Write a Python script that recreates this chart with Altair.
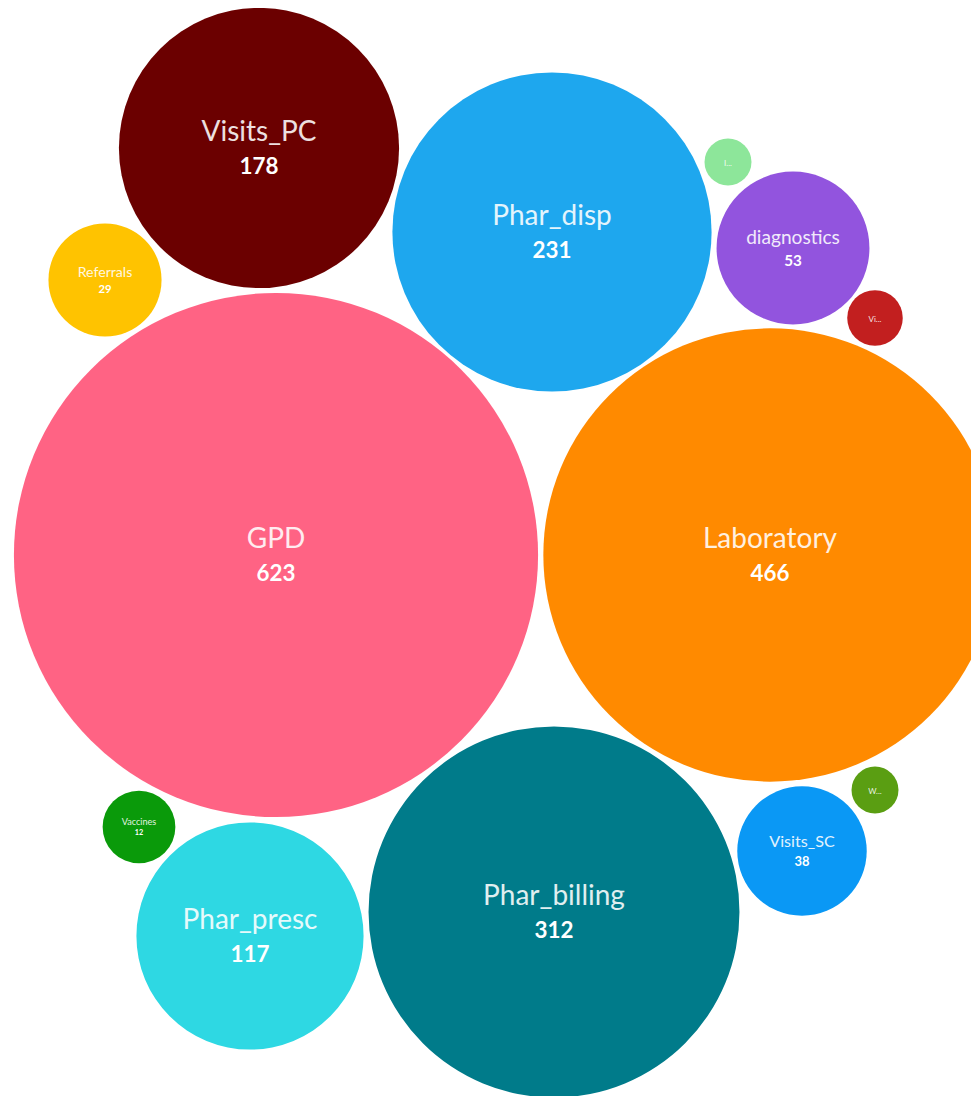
import altair as alt
import pandas as pd

names = ["GPD", "Laboratory", "Phar_billing", "Phar_disp", "Visits_PC", "Phar_presc",
         "diagnostics", "Visits_SC", "Referrals", "Vaccines", "I...", "Vi...", "W..."]
values = [623, 466, 312, 231, 178, 117, 53, 38, 29, 12, 5, 7, 5]
# packed-bubble layout centres (page pixel space)
cx = [276, 770, 554, 552, 259, 250, 793, 802, 105, 139, 728, 875, 875]
cy = [555, 555, 912, 232, 148, 936, 248, 851, 280, 827, 162, 318, 790]
colors = ["#FF6384", "#FF8A00", "#007B8A", "#1EA7EE", "#6B0000", "#2ED8E3",
          "#9254DE", "#0A98F5", "#FFC300", "#0A9A0A", "#8DE69A", "#C21F1F", "#5A9E12"]

df = pd.DataFrame({"name": names, "value": values, "cx": cx, "cy": cy})

W, H = 963, 1088
K = 10.5  # radius per sqrt(value)

x = alt.X("cx:Q", scale=alt.Scale(domain=[8, 8 + W], nice=False, zero=False), axis=None)
ysc = alt.Scale(domain=[8, 8 + H], nice=False, zero=False, reverse=True)
y = alt.Y("cy:Q", scale=ysc, axis=None)

base = alt.Chart(df)

# Vega circle symbol: radius = sqrt(size) / 2
circles = base.mark_circle(opacity=1, clip=False).encode(
    x=x, y=y,
    size=alt.Size("value:Q", scale=alt.Scale(domain=[0, max(values)],
                                             range=[0, 4 * K * K * max(values)]),
                  legend=None),
    color=alt.Color("name:N", scale=alt.Scale(domain=names, range=colors), legend=None),
)

calc = dict(
    fs=f"datum.value >= 10 ? min(28, {K * 0.25} * sqrt(datum.value)) : 8",
)

name_text = base.transform_calculate(**calc).transform_calculate(
    ny="datum.value >= 10 ? datum.cy - 0.53 * datum.fs : datum.cy + 0.3 * datum.fs"
).mark_text(font="Lato", color="white", opacity=0.88, baseline="middle", align="center").encode(
    x=x,
    y=alt.Y("ny:Q", scale=ysc, axis=None),
    text="name:N",
    size=alt.Size("fs:Q", scale=None),
)

value_text = base.transform_filter("datum.value >= 10").transform_calculate(**calc).transform_calculate(
    vy="datum.cy + 0.68 * datum.fs",
    fs2="0.8 * datum.fs",
).mark_text(font="Lato", fontWeight="bold", color="white", baseline="middle", align="center").encode(
    x=x,
    y=alt.Y("vy:Q", scale=ysc, axis=None),
    text="value:Q",
    size=alt.Size("fs2:Q", scale=None),
)

chart = alt.layer(circles, name_text, value_text).properties(
    width=W, height=H, padding=0, autosize=alt.AutoSizeParams(type="none")
).configure_view(stroke=None)

chart.save("out.html", embed_options={"renderer": "svg", "actions": False})
